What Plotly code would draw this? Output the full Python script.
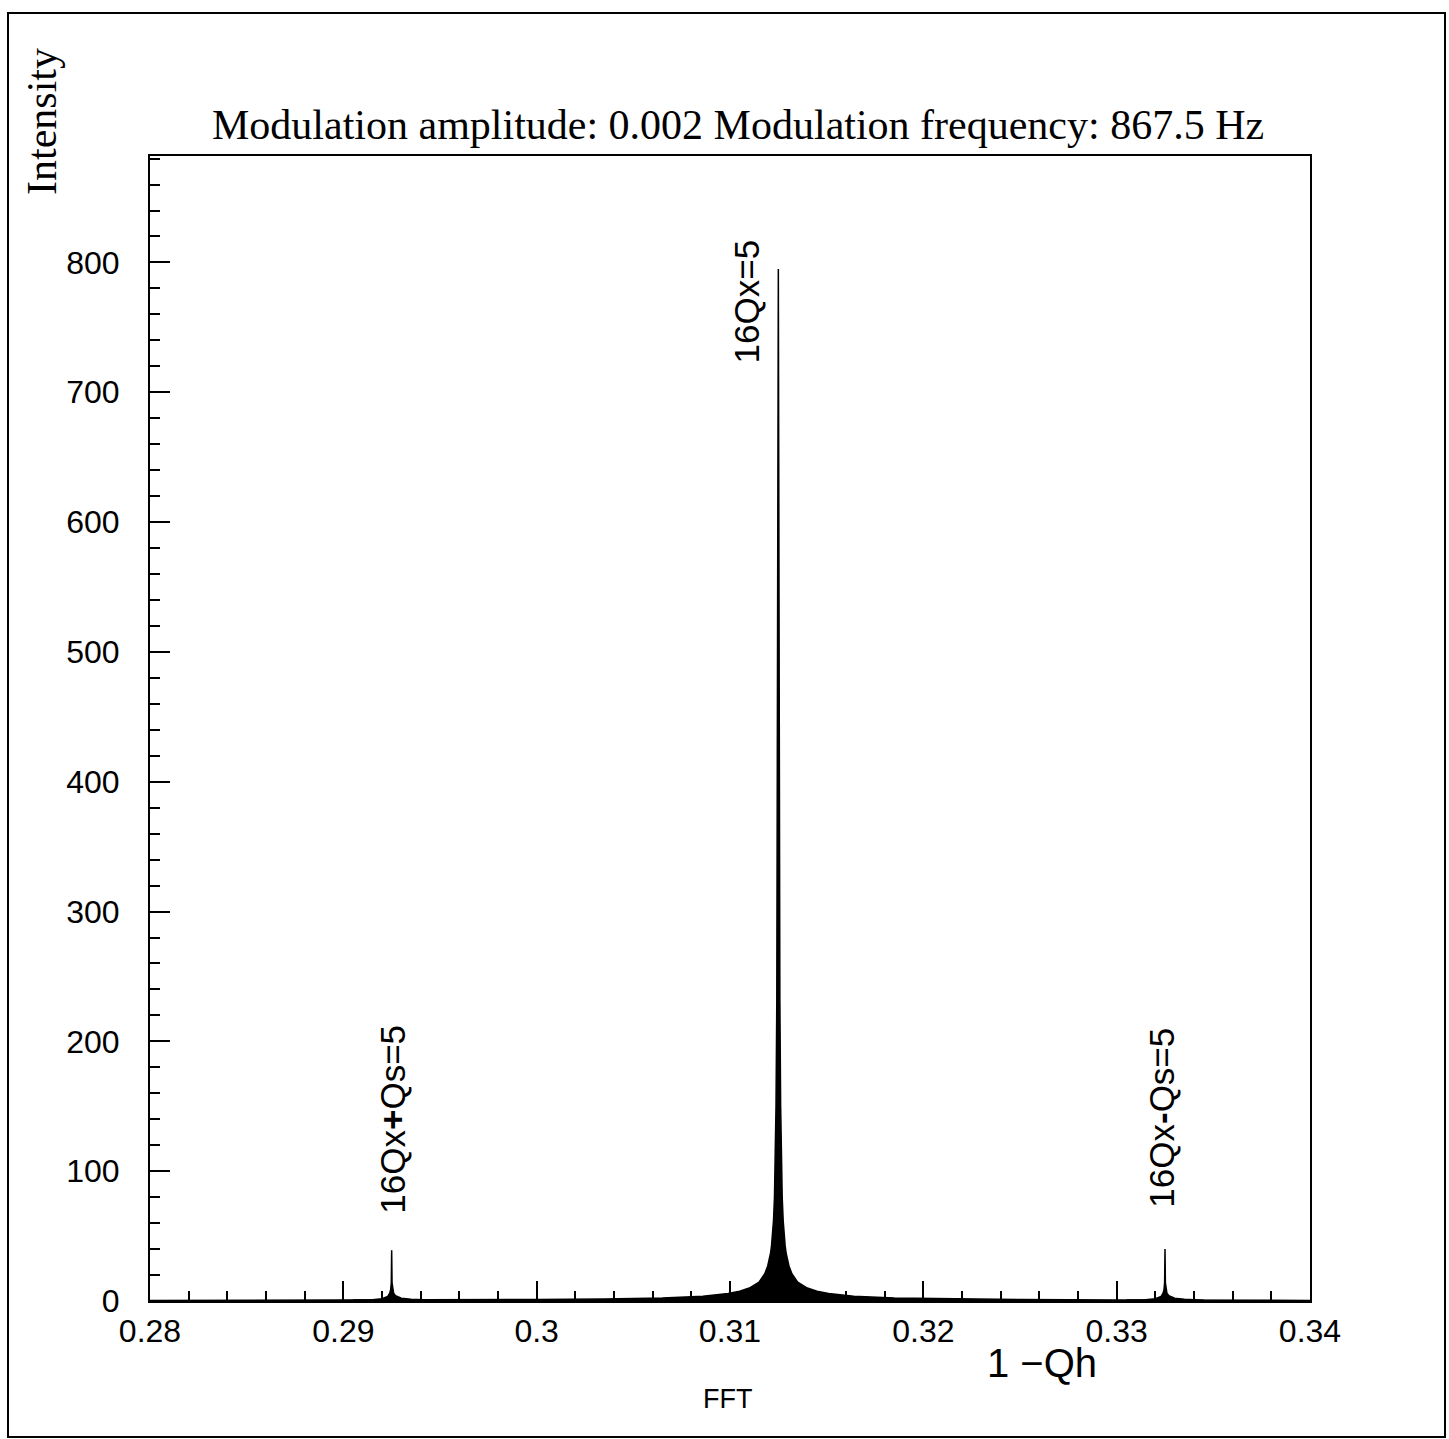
import plotly.graph_objects as go

# ---- data ----
main_x = [0.2800, 0.2850, 0.2900, 0.2950, 0.3000, 0.3035, 0.3065, 0.3086, 0.3099, 0.3105,
          0.3110, 0.3115, 0.3118, 0.31195, 0.3121, 0.31215, 0.3122, 0.31225, 0.3123, 0.31235,
          0.31238, 0.31242, 0.31245, 0.31248, 0.31250, 0.31252, 0.31255, 0.31258, 0.31262,
          0.31265, 0.31270, 0.31275, 0.31280, 0.31285, 0.31290, 0.31305, 0.3132, 0.3135,
          0.3140, 0.3145, 0.3151, 0.3164, 0.3185, 0.3215, 0.3250, 0.3300, 0.3350, 0.3400]
main_y = [0.4, 0.5, 0.65, 0.85, 1.2, 1.6, 2.4, 3.7, 5.8, 7.5,
          10, 14.5, 21, 27, 37, 43, 50, 62, 80, 110,
          150, 230, 400, 650, 795, 650, 400, 230, 150,
          110, 80, 62, 50, 43, 37, 27, 21, 14.5,
          10, 7.5, 5.8, 3.7, 2.4, 1.6, 1.2, 0.8, 0.6, 0.45]

left_sb_x = [0.2905, 0.2915, 0.2920, 0.2923, 0.29240, 0.29245, 0.29248, 0.29250,
             0.29252, 0.29255, 0.29260, 0.29270, 0.29300, 0.29350, 0.29450]
left_sb_y = [0.7, 1.0, 1.8, 3.5, 6, 9, 14, 39, 14, 9, 6, 4, 2.2, 1.3, 0.8]

right_sb_x = [0.3305, 0.3315, 0.3320, 0.3323, 0.33240, 0.33245, 0.33248, 0.33250,
              0.33252, 0.33255, 0.33260, 0.33270, 0.33300, 0.33350, 0.33450]
right_sb_y = [0.7, 1.0, 1.8, 3.5, 6, 9, 14, 40, 14, 9, 6, 4, 2.2, 1.3, 0.6]

x_tick_vals = [0.28, 0.29, 0.30, 0.31, 0.32, 0.33, 0.34]
x_tick_text = ["0.28", "0.29", "0.3", "0.31", "0.32", "0.33", "0.34"]
y_tick_vals = [0, 100, 200, 300, 400, 500, 600, 700, 800]
y_tick_text = ["0", "100", "200", "300", "400", "500", "600", "700", "800"]

peak_labels = ["16Qx<b>+</b>Qs=5", "16Qx=5", "16Qx<b>-</b>Qs=5"]
peak_label_x = [0.29254, 0.31083, 0.33233]
peak_label_y = [140, 770, 141]

title_text = "Modulation amplitude: 0.002 Modulation frequency: 867.5 Hz"

# ---- figure ----
W, H = 1449, 1439
L, R, T, B = 150, 1310, 156, 1301

fig = go.Figure()
for xs, ys in [(main_x, main_y), (left_sb_x, left_sb_y), (right_sb_x, right_sb_y)]:
    fig.add_trace(go.Scatter(x=xs, y=ys, mode="lines", fill="tozeroy",
                             fillcolor="black", line=dict(color="black", width=1.5),
                             showlegend=False, hoverinfo="skip"))

sans = "Liberation Sans, Arial, sans-serif"
tickfont = dict(family=sans, size=32, color="black")
serif = dict(family="Liberation Serif, Times New Roman, serif", size=42, color="black")

fig.update_layout(
    width=W, height=H, autosize=False,
    margin=dict(l=L, r=W - R, t=T, b=H - B, pad=0),
    paper_bgcolor="white", plot_bgcolor="white",
    showlegend=False,
    xaxis=dict(range=[0.28, 0.34], showgrid=False, zeroline=False,
               showline=True, linecolor="black", linewidth=2, mirror=True,
               ticks="inside", ticklen=20, tickwidth=1.5, tickcolor="black",
               tickvals=x_tick_vals, ticktext=x_tick_text, tickfont=tickfont,
               ticklabelstandoff=1,
               minor=dict(dtick=0.002, ticks="inside", ticklen=10, tickwidth=1.5,
                          tickcolor="black", showgrid=False)),
    yaxis=dict(range=[0, 882], showgrid=False, zeroline=False,
               showline=True, linecolor="black", linewidth=2, mirror=True,
               ticks="inside", ticklen=20, tickwidth=1.5, tickcolor="black",
               tickvals=y_tick_vals, ticktext=y_tick_text, tickfont=tickfont,
               ticklabelstandoff=22,
               minor=dict(dtick=20, ticks="inside", ticklen=10, tickwidth=1.5,
                          tickcolor="black", showgrid=False)),
)

def px_x(p):
    return (p - L) / (R - L)

def px_y(p):
    return (B - p) / (B - T)

# outer frame
fig.add_shape(type="rect", xref="paper", yref="paper",
              x0=px_x(8), x1=px_x(1445), y0=px_y(1437), y1=px_y(13),
              line=dict(color="black", width=2), layer="above")

# title
fig.add_annotation(text=title_text, xref="paper", yref="paper",
                   x=px_x(738), y=px_y(125), xanchor="center", yanchor="middle",
                   showarrow=False, font=serif)
# y title
fig.add_annotation(text="Intensity", xref="paper", yref="paper",
                   x=px_x(42), y=px_y(122), xanchor="center", yanchor="middle",
                   textangle=-90, showarrow=False, font=serif)
# x title
fig.add_annotation(text="1 \u2212Qh", xref="paper", yref="paper",
                   x=px_x(1042), y=px_y(1363), xanchor="center", yanchor="middle",
                   showarrow=False, font=dict(family=sans, size=40, color="black"))
fig.add_annotation(text="FFT", xref="paper", yref="paper",
                   x=px_x(727), y=px_y(1399), xanchor="center", yanchor="middle",
                   showarrow=False, font=dict(family=sans, size=27, color="black"))

for t, xv, yv in zip(peak_labels, peak_label_x, peak_label_y):
    fig.add_annotation(text=t, x=xv, y=yv, xref="x", yref="y",
                       xanchor="center", yanchor="middle", textangle=-90,
                       showarrow=False, font=dict(family=sans, size=35, color="black"))

fig.write_html("out.html", config={"displayModeBar": False})
